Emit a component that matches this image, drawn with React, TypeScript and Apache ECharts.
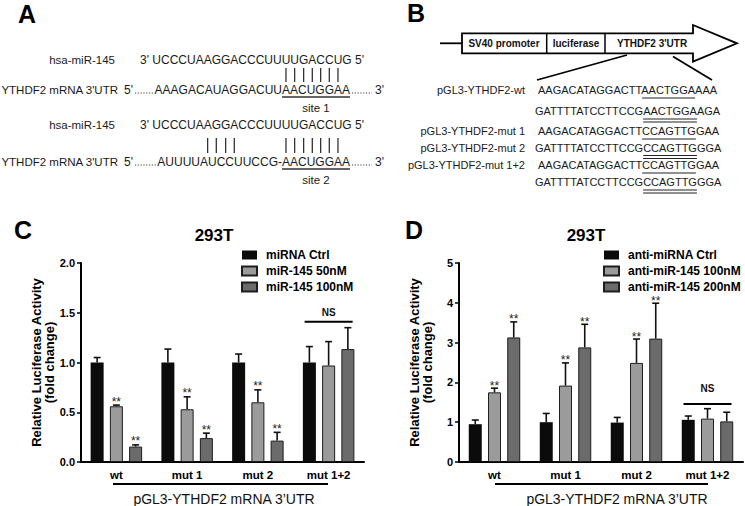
import React, { useEffect, useRef } from 'react';
import * as echarts from 'echarts';

const FONT = "'Liberation Sans', Arial, Helvetica, sans-serif";

// ---------- Panels C & D data ----------
const categories = ['wt', 'mut 1', 'mut 2', 'mut 1+2'];
const yTicksC = [0, 0.5, 1.0, 1.5, 2.0];
const yTicksD = [0, 1, 2, 3, 4, 5];

const namesC = ['miRNA Ctrl', 'miR-145 50nM', 'miR-145 100nM'];
const ctrlC = [1.0, 1.0, 1.0, 1.0];
const mir50C = [0.56, 0.53, 0.6, 0.97];
const mir100C = [0.155, 0.24, 0.215, 1.135];
const ctrlErrTopC = [1.05, 1.135, 1.085, 1.16];
const mir50ErrTopC = [0.572, 0.655, 0.725, 1.21];
const mir100ErrTopC = [0.172, 0.29, 0.298, 1.35];
const ctrlStarsC = [0, 0, 0, 0];
const mir50StarsC = [1, 1, 1, 0];
const mir100StarsC = [1, 1, 1, 0];
const nsC = { cat: 3, line: 1.41, text: 1.5 };

const namesD = ['anti-miRNA Ctrl', 'anti-miR-145 100nM', 'anti-miR-145 200nM'];
const ctrlD = [0.95, 1.0, 0.99, 1.06];
const anti100D = [1.75, 1.92, 2.49, 1.09];
const anti200D = [3.13, 2.88, 3.1, 1.02];
const ctrlErrTopD = [1.055, 1.22, 1.12, 1.155];
const anti100ErrTopD = [1.855, 2.49, 3.09, 1.34];
const anti200ErrTopD = [3.52, 3.46, 3.99, 1.25];
const ctrlStarsD = [0, 0, 0, 0];
const anti100StarsD = [1, 1, 1, 0];
const anti200StarsD = [1, 1, 1, 0];
const nsD = { cat: 3, line: 1.46, text: 1.84 };

// ---------- Panels A & B text ----------
const miRSeq = 'UCCCUAAGGACCCUUUUGACCUG';
const target1 = 'AAAGACAUAGGACUUAACUGGAA';
const target2 = 'AUUUUAUCCUUCCG-AACUGGAA';
const seqRowsB = [
  { label: 'pGL3-YTHDF2-wt', seq: 'AAGACATAGGACTTAACTGGAAAA', site: 14, double: false },
  { label: '', seq: 'GATTTTATCCTTCCGAACTGGAAGA', site: 15, double: true },
  { label: 'pGL3-YTHDF2-mut 1', seq: 'AAGACATAGGACTTCCAGTTGGAA', site: 14, double: false },
  { label: 'pGL3-YTHDF2-mut 2', seq: 'GATTTTATCCTTCCGCCAGTTGGGA', site: 15, double: true },
  { label: 'pGL3-YTHDF2-mut 1+2', seq: 'AAGACATAGGACTTCCAGTTGGAA', site: 14, double: false },
  { label: '', seq: 'GATTTTATCCTTCCGCCAGTTGGGA', site: 15, double: true },
];
const rowYB = [90, 111, 131, 147.5, 165, 182];

const BAR_COLORS = ['#0b0b0b', '#9b9b9b', '#6b6b6b'];
const BAR_W = 13;
const BAR_GAP = 0.48;
const PITCH = BAR_W * (1 + BAR_GAP);

let ctx: CanvasRenderingContext2D | null = null;
function tw(text: string, font: string) {
  if (!ctx) ctx = document.createElement('canvas').getContext('2d');
  ctx!.font = font;
  return ctx!.measureText(text).width;
}

function txt(x: number, y: number, text: string, font: string, align = 'left', fill = '#1a1a1a') {
  return {
    type: 'text', x, y, silent: true,
    style: { text, font, fill, textAlign: align, textVerticalAlign: 'middle' },
  };
}
function ln(x1: number, y1: number, x2: number, y2: number, w = 1.5, stroke = '#111', dash?: number[]) {
  const style: any = { stroke, lineWidth: w };
  if (dash) style.lineDash = dash;
  return { type: 'line', silent: true, shape: { x1, y1, x2, y2 }, style };
}

function buildPanelA() {
  const el: any[] = [];
  const fL = `11.5px ${FONT}`;
  const fA = `12px ${FONT}`;
  el.push(txt(27, 14, 'A', `bold 25px ${FONT}`, 'center', '#000'));
  const miRX = 140;
  const prefix = "3' ";
  const letterCenter = (k: number) =>
    miRX + tw(prefix + miRSeq.slice(0, k - 1), fA) + tw(miRSeq[k - 1], fA) / 2;
  const rows = [
    { yM: 60, yT: 90, b1: 68, b2: 82, uy: 97, ly: 108, target: target1, pairs: [16, 17, 18, 19, 20, 21, 22], site: 'site 1' },
    { yM: 125, yT: 162, b1: 138, b2: 153, uy: 169, ly: 180, target: target2, pairs: [7, 8, 9, 10, 16, 17, 18, 19, 20, 21, 22], site: 'site 2' },
  ];
  rows.forEach((r) => {
    el.push(txt(115, r.yM, 'hsa-miR-145', fL, 'right'));
    el.push(txt(miRX, r.yM, `${prefix}${miRSeq} 5'`, fA));
    r.pairs.forEach((k) => {
      const x = letterCenter(k);
      el.push(ln(x, r.b1, x, r.b2, 1.3, '#333'));
    });
    const tx = letterCenter(16) - (tw(r.target.slice(0, 15), fA) + tw(r.target[15], fA) / 2);
    const tEnd = tx + tw(r.target, fA);
    el.push(txt(118, r.yT, "YTHDF2 mRNA 3'UTR", fL, 'right'));
    el.push(txt(124, r.yT, "5'", fA));
    el.push(ln(124 + tw("5'", fA) + 2, r.yT + 3, tx - 1.5, r.yT + 3, 1.2, '#444', [1.2, 1.6]));
    el.push(txt(tx, r.yT, r.target, fA));
    el.push(ln(tEnd + 2, r.yT + 3, tEnd + 22, r.yT + 3, 1.2, '#444', [1.2, 1.6]));
    el.push(txt(tEnd + 25, r.yT, "3'", fA));
    const u1 = tx + tw(r.target.slice(0, 15), fA);
    el.push(ln(u1, r.uy, tEnd, r.uy, 1.5, '#333'));
    el.push(txt((u1 + tEnd) / 2, r.ly, r.site, fL, 'center'));
  });
  return el;
}

function buildPanelB() {
  const el: any[] = [];
  const fB = `11px ${FONT}`;
  const fBox = `bold 10px ${FONT}`;
  el.push(txt(416, 13, 'B', `bold 25px ${FONT}`, 'center', '#000'));
  el.push(ln(440, 43.3, 462, 43.3, 1.8, '#000'));
  el.push({
    type: 'polygon', silent: true,
    shape: { points: [[462, 33.3], [693, 33.3], [693, 25], [737, 43.3], [693, 61.7], [693, 53.3], [462, 53.3]] },
    style: { fill: '#fff', stroke: '#000', lineWidth: 1.8 },
  });
  el.push(ln(546.7, 33.3, 546.7, 53.3, 1.5, '#000'));
  el.push(ln(605, 33.3, 605, 53.3, 1.5, '#000'));
  el.push(txt(504, 43.5, 'SV40 promoter', fBox, 'center', '#111'));
  el.push(txt(576, 43.5, 'luciferase', fBox, 'center', '#111'));
  el.push(txt(617, 43.5, "YTHDF2 3'UTR", fBox, 'left', '#111'));
  el.push(ln(627, 55, 537, 80, 1.8, '#000'));
  el.push(ln(673, 56.5, 712, 80, 1.8, '#000'));
  seqRowsB.forEach((r, i) => {
    const y = rowYB[i];
    const x0 = r.seq.startsWith('G') ? 535 : 538;
    if (r.label) el.push(txt(525, y, r.label, fB, 'right'));
    el.push(txt(x0, y, r.seq, fB));
    const ux1 = x0 + tw(r.seq.slice(0, r.site), fB);
    const ux2 = x0 + tw(r.seq.slice(0, r.site + 7), fB);
    el.push(ln(ux1, y + 8, ux2, y + 8, 1.2, '#222'));
    if (r.double) el.push(ln(ux1, y + 11, ux2, y + 11, 1.2, '#222'));
  });
  return el;
}

function panelSeries(gi: number, names: string[], vals: number[][], errs: number[][], stars: number[][], starOff: number, ns: any) {
  const series: any[] = names.map((n, s) => ({
    name: n, type: 'bar', xAxisIndex: gi, yAxisIndex: gi, data: vals[s],
    barWidth: BAR_W, barGap: `${BAR_GAP * 100}%`,
    itemStyle: { color: BAR_COLORS[s], borderColor: '#1e1e1e', borderWidth: s === 0 ? 0 : 1 },
    emphasis: { disabled: true }, silent: true,
  }));
  const errData: number[][] = [];
  names.forEach((_, s) => vals[s].forEach((v, i) => errData.push([i, s, v, errs[s][i], stars[s][i]])));
  series.push({
    type: 'custom', xAxisIndex: gi, yAxisIndex: gi, data: errData, encode: { x: 0, y: 3 }, z: 5, silent: true, clip: false,
    renderItem: (params: any, api: any) => {
      const cat = api.value(0), s = api.value(1), v = api.value(2), e = api.value(3), st = api.value(4);
      const p0 = api.coord([cat, v]);
      const p1 = api.coord([cat, e]);
      const x = p0[0] + (s - 1) * PITCH;
      const children: any[] = [
        { type: 'line', shape: { x1: x, y1: p0[1], x2: x, y2: p1[1] }, style: { stroke: '#111', lineWidth: 1.6 } },
        { type: 'line', shape: { x1: x - 3.5, y1: p1[1], x2: x + 3.5, y2: p1[1] }, style: { stroke: '#111', lineWidth: 1.6 } },
      ];
      if (st) children.push({
        type: 'text', x, y: p1[1] - starOff + 3,
        style: { text: '**', font: `12px ${FONT}`, lineHeight: 7, fill: '#222', textAlign: 'center', textVerticalAlign: 'middle' },
      });
      return { type: 'group', children };
    },
  });
  series.push({
    type: 'custom', xAxisIndex: gi, yAxisIndex: gi, data: [[ns.cat, ns.line, ns.text]], encode: { x: 0, y: [1, 2] }, z: 5, silent: true, clip: false,
    renderItem: (params: any, api: any) => {
      const c = api.coord([api.value(0), api.value(1)]);
      const t = api.coord([api.value(0), api.value(2)]);
      return {
        type: 'group', children: [
          { type: 'line', shape: { x1: c[0] - 24, y1: c[1], x2: c[0] + 24, y2: c[1] }, style: { stroke: '#000', lineWidth: 2 } },
          { type: 'text', x: c[0], y: t[1], style: { text: 'NS', font: `bold 10px ${FONT}`, fill: '#111', textAlign: 'center', textVerticalAlign: 'middle' } },
        ],
      };
    },
  });
  return series;
}

function xAxisOf(gi: number) {
  return {
    type: 'category', gridIndex: gi, data: categories,
    axisLine: { lineStyle: { color: '#000', width: 2 } },
    axisTick: { alignWithLabel: true, length: 4, lineStyle: { color: '#000', width: 1.5 } },
    axisLabel: { color: '#000', fontWeight: 'bold', fontSize: 11.5, fontFamily: FONT, margin: 7 },
  };
}
function yAxisOf(gi: number, ticks: number[], digits: number, nameGap: number) {
  return {
    type: 'value', gridIndex: gi, min: ticks[0], max: ticks[ticks.length - 1], interval: ticks[1] - ticks[0],
    axisLine: { show: true, lineStyle: { color: '#000', width: 2 } },
    axisTick: { show: true, length: 4, lineStyle: { color: '#000', width: 1.5 } },
    splitLine: { show: false },
    axisLabel: { color: '#000', fontWeight: 'bold', fontSize: 11, fontFamily: FONT, margin: 6, formatter: (v: number) => v.toFixed(digits) },
    name: 'Relative Luciferase Activity\n(fold change)', nameLocation: 'middle', nameGap,
    nameTextStyle: { color: '#000', fontWeight: 'bold', fontSize: 13, lineHeight: 13, fontFamily: FONT },
  };
}
function legendOf(names: string[], left: number) {
  return {
    data: names, orient: 'vertical', left, top: 249, padding: 0, itemWidth: 15, itemHeight: 9, itemGap: 4,
    selectedMode: false, icon: 'rect',
    textStyle: { color: '#000', fontWeight: 'bold', fontSize: 12, fontFamily: FONT, lineHeight: 12, padding: [0, 0, 0, 4] },
  };
}

function buildOption() {
  const captionFont = `14px ${FONT}`;
  const graphic: any[] = [
    ...buildPanelA(),
    ...buildPanelB(),
    txt(23, 230, 'C', `bold 25px ${FONT}`, 'center', '#000'),
    txt(414, 230, 'D', `bold 25px ${FONT}`, 'center', '#000'),
    txt(214, 235, '293T', `bold 17px ${FONT}`, 'center', '#000'),
    txt(586, 235, '293T', `bold 17px ${FONT}`, 'center', '#000'),
    ln(113, 484, 328, 484, 2, '#000'),
    ln(495, 484, 708, 484, 2, '#000'),
    txt(224, 499, 'pGL3-YTHDF2 mRNA 3\u2019UTR', captionFont, 'center', '#111'),
    txt(617, 499, 'pGL3-YTHDF2 mRNA 3\u2019UTR', captionFont, 'center', '#111'),
  ];
  return {
    animation: false,
    backgroundColor: '#fff',
    textStyle: { fontFamily: FONT },
    grid: [
      { left: 81, top: 263, width: 283, height: 199 },
      { left: 459, top: 263, width: 284, height: 199 },
    ],
    legend: [legendOf(namesC, 241), legendOf(namesD, 603)],
    xAxis: [xAxisOf(0), xAxisOf(1)],
    yAxis: [yAxisOf(0, yTicksC, 1, 22), yAxisOf(1, yTicksD, 0, 25)],
    series: [
      ...panelSeries(0, namesC, [ctrlC, mir50C, mir100C], [ctrlErrTopC, mir50ErrTopC, mir100ErrTopC], [ctrlStarsC, mir50StarsC, mir100StarsC], 6.5, nsC),
      ...panelSeries(1, namesD, [ctrlD, anti100D, anti200D], [ctrlErrTopD, anti100ErrTopD, anti200ErrTopD], [ctrlStarsD, anti100StarsD, anti200StarsD], 5.5, nsD),
    ],
    graphic,
  };
}

export default function App() {
  const ref = useRef<HTMLDivElement>(null);
  useEffect(() => {
    const chart = echarts.init(ref.current!, null, { renderer: 'svg' });
    chart.setOption(buildOption() as any);
    return () => chart.dispose();
  }, []);
  return (
    <div
      ref={ref}
      style={{ position: 'absolute', left: 0, top: 0, width: 745, height: 506, background: '#fff' }}
    />
  );
}
